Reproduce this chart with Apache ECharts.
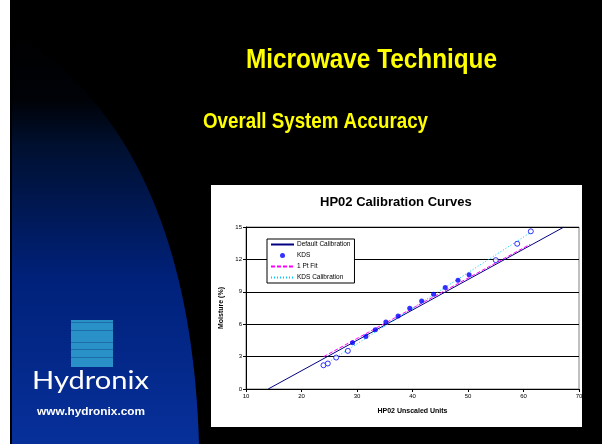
<!DOCTYPE html>
<html><head><meta charset="utf-8">
<script src="https://cdn.jsdelivr.net/npm/echarts@6/dist/echarts.min.js"></script>
<style>html,body{margin:0;padding:0;background:#000;}#c{width:602px;height:444px;}</style>
</head><body><div id="c"></div>
<script>
// ---- data ----
const slideTitle = 'Microwave Technique';
const slideSubtitle = 'Overall System Accuracy';
const chartTitle = 'HP02 Calibration Curves';
const xAxisName = 'HP02 Unscaled Units';
const yAxisName = 'Moisture (%)';
const seriesNames = ['Default Calibration', 'KDS', '1 Pt Fit', 'KDS Calibration'];
const defaultCal = [[14, 0], [67.3, 15]];
const kdsFilled = [[29.2, 4.28], [31.6, 4.87], [33.3, 5.49], [35.2, 6.2], [37.4, 6.76], [39.5, 7.47],
  [41.65, 8.15], [43.8, 8.77], [45.9, 9.39], [48.2, 10.07], [50.2, 10.57]];
const kdsOpen = [[23.96, 2.2], [24.74, 2.36], [26.25, 2.91], [28.35, 3.53], [55.0, 11.93], [58.86, 13.45], [61.32, 14.6]];
const onePtFit = [[24, 3.0], [61.2, 13.4]];
const kdsCal = [[24, 2.2], [61.3, 14.5]];
const xMin = 10, xMax = 70, xStep = 10;
const yMin = 0, yMax = 15, yStep = 3;
const logoText = 'Hydronix';
const logoUrl = 'www.hydronix.com';

const chart = echarts.init(document.getElementById('c'), null, {renderer: 'canvas'});
const arial = "'Liberation Sans', Arial, sans-serif";

// text width fitting helper (styling only)
const mctx = document.createElement('canvas').getContext('2d');
function fitScale(text, font, target) { mctx.font = font; return target / mctx.measureText(text).width; }

const titleFont = "bold 28px " + arial;
const subFont = "bold 22px " + arial;
const logoFont = "25px Lato, 'Open Sans', sans-serif";
const urlFont = "bold 10px " + arial;

// decorative slide shape (quadratic curve outline)
const shapePts = [[12, 444], [12, 30]];
for (let i = 1; i <= 40; i++) {
  const t = i / 40, u = 1 - t;
  shapePts.push([u * u * 12 + 2 * u * t * 190 + t * t * 199, u * u * 30 + 2 * u * t * 140 + t * t * 444]);
}
const grad = {type: 'linear', x: 0, y: 0, x2: 0, y2: 1, colorStops: [
  {offset: 0, color: '#000000'}, {offset: 0.17, color: '#000207'}, {offset: 0.28, color: '#001030'},
  {offset: 0.6, color: '#00217a'}, {offset: 1, color: '#07309a'}]};

chart.setOption({
  backgroundColor: '#000',
  animation: false,
  title: {
    text: chartTitle, left: 315, top: 191,
    textStyle: {fontFamily: arial, fontSize: 13, fontWeight: 'bold', color: '#000'}
  },
  graphic: [
    {type: 'rect', z: -30, shape: {x: 0, y: 0, width: 10, height: 444}, style: {fill: '#fff'}},
    {type: 'polygon', z: -20, shape: {points: shapePts}, style: {fill: grad}},
    {type: 'rect', z: -15, shape: {x: 71, y: 320, width: 42, height: 47}, style: {fill: '#2a90c8'}},
    {type: 'rect', z: -14, shape: {x: 71, y: 322, width: 42, height: 1}, style: {fill: '#1b6ea6'}},
    {type: 'rect', z: -14, shape: {x: 71, y: 330, width: 42, height: 1}, style: {fill: '#1b6ea6'}},
    {type: 'rect', z: -14, shape: {x: 71, y: 342, width: 42, height: 1}, style: {fill: '#1b6ea6'}},
    {type: 'rect', z: -14, shape: {x: 71, y: 349, width: 42, height: 1}, style: {fill: '#1b6ea6'}},
    {type: 'rect', z: -14, shape: {x: 71, y: 357, width: 42, height: 1}, style: {fill: '#1b6ea6'}},
    {type: 'text', z: -14, x: 90.5, y: 381, scaleX: fitScale(logoText, logoFont, 117),
      style: {text: logoText, fill: '#fff', font: logoFont, textAlign: 'center', textVerticalAlign: 'middle'}},
    {type: 'text', z: -14, x: 91, y: 412, scaleX: fitScale(logoUrl, urlFont, 108),
      style: {text: logoUrl, fill: '#fff', font: urlFont, textAlign: 'center', textVerticalAlign: 'middle'}},
    {type: 'text', z: -14, x: 371.5, y: 60, scaleX: fitScale(slideTitle, titleFont, 251),
      style: {text: slideTitle, fill: '#ffff00', font: titleFont, textAlign: 'center', textVerticalAlign: 'middle'}},
    {type: 'text', z: -14, x: 203, y: 122, scaleX: fitScale(slideSubtitle, subFont, 225),
      style: {text: slideSubtitle, fill: '#ffff00', font: subFont, textAlign: 'left', textVerticalAlign: 'middle'}},
    {type: 'rect', z: -12, shape: {x: 211, y: 185, width: 371, height: 242}, style: {fill: '#fff'}}
  ],
  legend: {
    orient: 'vertical', left: 267, top: 239,
    data: [
      {name: seriesNames[0], itemStyle: {opacity: 0}},
      {name: seriesNames[1]},
      {name: seriesNames[2], itemStyle: {opacity: 0}},
      {name: seriesNames[3], itemStyle: {opacity: 0}}
    ],
    backgroundColor: '#fff', borderColor: '#000', borderWidth: 1,
    padding: [2, 4, 2, 3], itemGap: 4, itemWidth: 23, itemHeight: 5,
    textStyle: {fontFamily: arial, fontSize: 6.5, color: '#000', padding: [0, 0, 0, -2]}
  },
  grid: {left: 246, top: 227, right: 23, bottom: 55, show: true, borderColor: '#808080', borderWidth: 1, backgroundColor: 'transparent'},
  xAxis: {
    type: 'value', min: xMin, max: xMax, interval: xStep,
    name: xAxisName, nameLocation: 'middle', nameGap: 19,
    nameTextStyle: {fontFamily: arial, fontSize: 7, fontWeight: 'bold', color: '#000'},
    axisLine: {show: true, onZero: false, lineStyle: {color: '#000', width: 1}},
    axisTick: {show: true, length: 3, lineStyle: {color: '#000'}},
    axisLabel: {fontFamily: arial, fontSize: 6, color: '#000', margin: 4},
    splitLine: {show: false}
  },
  yAxis: {
    type: 'value', min: yMin, max: yMax, interval: yStep,
    name: yAxisName, nameLocation: 'middle', nameGap: 15,
    nameTextStyle: {fontFamily: arial, fontSize: 7, fontWeight: 'bold', color: '#000'},
    axisLine: {show: true, onZero: false, lineStyle: {color: '#000', width: 1}},
    axisTick: {show: true, length: 3, lineStyle: {color: '#000'}},
    axisLabel: {fontFamily: arial, fontSize: 6, color: '#000', margin: 4},
    splitLine: {show: true, lineStyle: {color: '#000', width: 1}}
  },
  series: [
    {name: seriesNames[0], type: 'line', data: defaultCal, symbol: 'none', z: 3,
      lineStyle: {color: '#000080', width: 1}, itemStyle: {color: '#000080'}},
    {name: seriesNames[1], type: 'scatter', data: kdsFilled, symbol: 'circle', symbolSize: 5, z: 5,
      itemStyle: {color: '#0000ff'}},
    {name: 'KDS excluded', type: 'scatter', data: kdsOpen, symbol: 'circle', symbolSize: 5, z: 5,
      itemStyle: {color: '#fff', borderColor: '#0000ff', borderWidth: 1}},
    {name: seriesNames[2], type: 'line', data: onePtFit, symbol: 'none', z: 4,
      lineStyle: {color: '#ff00ff', width: 1, type: [4, 2]}, itemStyle: {color: '#ff00ff'}},
    {name: seriesNames[3], type: 'line', data: kdsCal, symbol: 'none', z: 4,
      lineStyle: {color: '#00ccff', width: 1, type: [1, 2]}, itemStyle: {color: '#00ccff'}}
  ]
});
</script></body></html>
